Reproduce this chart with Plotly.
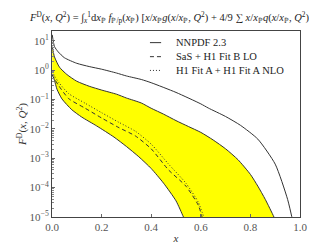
import numpy as np
import plotly.graph_objects as go

# NNPDF 2.3 (solid)
nn_x = [0.001, 0.01, 0.025, 0.05, 0.1, 0.15, 0.2, 0.26, 0.3, 0.36, 0.4, 0.5, 0.6, 0.63, 0.7, 0.76, 0.83, 0.9, 0.95, 0.975]
nn_logy = [1.2, 0.8, 0.62, 0.42, 0.23, 0.12, 0.03, -0.1, -0.2, -0.32, -0.43, -0.76, -1.15, -1.29, -1.58, -1.88, -2.35, -3.2, -4.4, -5.3]

# band upper / lower
up_x = [0.001, 0.01, 0.03, 0.06, 0.1, 0.15, 0.2, 0.26, 0.3, 0.36, 0.4, 0.45, 0.5, 0.55, 0.6, 0.65, 0.7, 0.75, 0.8, 0.83, 0.86, 0.895, 0.91]
up_logy = [0.8, 0.45, 0.1, -0.15, -0.38, -0.55, -0.68, -0.82, -0.95, -1.12, -1.3, -1.5, -1.72, -1.92, -2.12, -2.38, -2.68, -3.05, -3.55, -3.95, -4.4, -5.0, -5.3]
lo_x = [0.001, 0.01, 0.02, 0.04, 0.08, 0.12, 0.18, 0.25, 0.3, 0.35, 0.4, 0.45, 0.5, 0.53, 0.545]
lo_logy = [-0.15, -0.35, -0.65, -0.98, -1.35, -1.6, -1.9, -2.28, -2.6, -2.95, -3.35, -3.85, -4.45, -5.0, -5.3]

# SaS + H1 Fit B LO (dashed)
sas_x = [0.001, 0.01, 0.027, 0.067, 0.134, 0.2, 0.27, 0.336, 0.4, 0.47, 0.54, 0.59, 0.605]
sas_logy = [-0.15, -0.3, -0.53, -0.97, -1.3, -1.63, -1.96, -2.24, -2.68, -3.4, -3.95, -4.6, -5.0]

# H1 Fit A + H1 Fit A NLO (dotted)
h1_x = [0.001, 0.01, 0.027, 0.067, 0.134, 0.2, 0.27, 0.336, 0.4, 0.47, 0.54, 0.59, 0.612]
h1_logy = [-0.05, -0.2, -0.42, -0.8, -1.13, -1.45, -1.78, -2.08, -2.52, -3.2, -3.85, -4.5, -5.0]

series_names = ["NNPDF 2.3", "SaS + H1 Fit B LO", "H1 Fit A + H1 Fit A NLO"]

yticks = [1e-5, 1e-4, 1e-3, 1e-2, 1e-1, 1e0, 1e1]
ytext = ["10<sup>−5</sup>", "10<sup>−4</sup>", "10<sup>−3</sup>", "10<sup>−2</sup>", "10<sup>−1</sup>", "10<sup>0</sup>", "10<sup>1</sup>"]
xticks = [0.0, 0.2, 0.4, 0.6, 0.8, 1.0]
xtext = ["0.0", "0.2", "0.4", "0.6", "0.8", "1.0"]

def p(v):
    return [10 ** a for a in v]

FONT = "Liberation Serif"
LC = "#333"
dashes = ["solid", "4px,3px", "1px,2px"]

fig = go.Figure()
band_x = up_x + lo_x[::-1]
band_y = p(up_logy) + p(lo_logy)[::-1]
fig.add_trace(go.Scatter(x=band_x, y=band_y, fill="toself", fillcolor="#ffff00",
                         line=dict(color=LC, width=1, shape="spline", smoothing=0.6), mode="lines",
                         showlegend=False, hoverinfo="skip"))
for xs, ys, nm, ds in [(nn_x, nn_logy, series_names[0], dashes[0]),
                       (sas_x, sas_logy, series_names[1], dashes[1]),
                       (h1_x, h1_logy, series_names[2], dashes[2])]:
    fig.add_trace(go.Scatter(x=xs, y=p(ys), mode="lines", name=nm, showlegend=False,
                             line=dict(color=LC, width=1, dash=ds, shape="spline", smoothing=0.6)))

# manual legend (compact, like the reference)
leg_y = [0.9375, 0.862, 0.788]
for i, nm in enumerate(series_names):
    fig.add_shape(type="line", xref="paper", yref="paper", x0=0.395, x1=0.44,
                  y0=leg_y[i], y1=leg_y[i], line=dict(color=LC, width=1, dash=dashes[i]))
    fig.add_annotation(xref="paper", yref="paper", x=0.49, y=leg_y[i], text=nm,
                       showarrow=False, xanchor="left", yanchor="middle",
                       font=dict(family=FONT, size=10.5, color="#222"))

title = ("<i>F</i><sup>D</sup>(<i>x</i>, <i>Q</i><sup>2</sup>) = ∫<sub><i>x</i></sub><sup>1</sup>d<i>x</i><sub>ℙ</sub> "
         "<i>f</i><sub>ℙ/p</sub>(<i>x</i><sub>ℙ</sub>) [<i>x</i>/<i>x</i><sub>ℙ</sub><i>g</i>(<i>x</i>/<i>x</i><sub>ℙ</sub>, <i>Q</i><sup>2</sup>)"
         " + 4/9 ∑ <i>x</i>/<i>x</i><sub>ℙ</sub><i>q</i>(<i>x</i>/<i>x</i><sub>ℙ</sub>, <i>Q</i><sup>2</sup>)]")

fig.update_layout(
    width=317, height=247,
    margin=dict(l=44, r=25, t=23, b=32),
    paper_bgcolor="white", plot_bgcolor="white",
    font=dict(family=FONT, color="#333", size=11),
    title=dict(text=title, x=0.515, xanchor="center", y=0.962, yanchor="middle",
               font=dict(family=FONT, size=10.5, color="#222")),
    showlegend=False,
)
fig.update_xaxes(range=[0, 1], tickvals=xticks, ticktext=xtext, ticks="inside", ticklen=3,
                 showgrid=False, zeroline=False, showline=True, linecolor="#444", linewidth=1,
                 mirror=True, tickcolor="#666", title=dict(text="<i>x</i>", standoff=2, font=dict(size=11)),
                 tickfont=dict(size=11, color="#555"))
fig.update_yaxes(type="log", range=[-5, 1.33], tickvals=yticks, ticktext=ytext, ticks="inside", ticklen=3,
                 showgrid=False, zeroline=False, showline=True, linecolor="#444", linewidth=1,
                 mirror=True, tickcolor="#666",
                 minor=dict(ticks="inside", ticklen=2, tickcolor="#888", dtick="D1", showgrid=False),
                 title=dict(text="<i>F</i><sup>D</sup>(<i>x</i>, <i>Q</i><sup>2</sup>)", standoff=0, font=dict(size=11)),
                 tickfont=dict(size=11, color="#555"))

fig.write_html("out.html")
